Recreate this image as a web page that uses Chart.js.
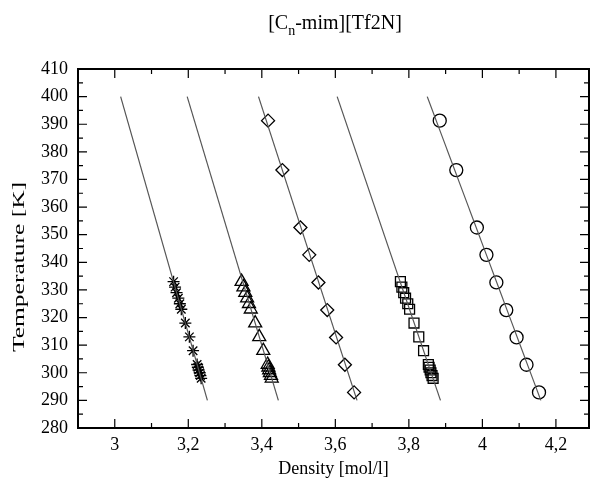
<!DOCTYPE html>
<html lang="en">
<head>
    <meta charset="UTF-8">
    <title>[Cn-mim][Tf2N]</title>
    <script src="https://cdn.jsdelivr.net/npm/chart.js"></script>
    <style>
        html, body {
            margin: 0;
            padding: 0;
            background-color: #fff;
            overflow: hidden;
        }
        .chart-container {
            width: 590px;
            height: 480px;
            position: relative;
        }
        canvas {
            display: block;
        }
    </style>
</head>
<body>
    <div class="chart-container">
        <canvas id="densityChart"></canvas>
    </div>

    <script>
        // axis ticks
        const xTicks = [3, 3.2, 3.4, 3.6, 3.8, 4, 4.2];
        const xMinorTicks = [3.1, 3.3, 3.5, 3.7, 3.9, 4.1];
        const yTicks = [280, 290, 300, 310, 320, 330, 340, 350, 360, 370, 380, 390, 400, 410];
        const yMinorTicks = [285, 295, 305, 315, 325, 335, 345, 355, 365, 375, 385, 395, 405];

        // measured points (temperature in K, density in mol/l)
        const tempShort = [333, 331, 329, 327, 325, 323, 318, 313, 308, 303, 302, 301, 300, 299, 298];
        const densStar = [3.160, 3.164, 3.168, 3.173, 3.177, 3.181, 3.192, 3.203, 3.213, 3.224, 3.226, 3.228, 3.231, 3.233, 3.235];
        const densTriangle = [3.345, 3.350, 3.355, 3.360, 3.365, 3.370, 3.382, 3.393, 3.404, 3.416, 3.418, 3.420, 3.422, 3.425, 3.427];
        const densSquare = [3.777, 3.781, 3.786, 3.791, 3.797, 3.802, 3.814, 3.827, 3.840, 3.853, 3.855, 3.858, 3.860, 3.863, 3.866];

        const tempLong = [391.3, 373.4, 352.6, 342.7, 332.7, 322.7, 312.8, 302.9, 292.9];
        const densDiamond = [3.417, 3.456, 3.505, 3.529, 3.554, 3.578, 3.602, 3.626, 3.651];
        const densCircle = [3.884, 3.929, 3.985, 4.011, 4.038, 4.065, 4.093, 4.120, 4.154];

        // fitted lines, density at T = 400 K and T = 290 K
        const fitTemps = [400, 290];
        const fitStar = [3.016, 3.252];
        const fitTriangle = [3.197, 3.445];
        const fitDiamond = [3.391, 3.659];
        const fitSquare = [3.605, 3.886];
        const fitCircle = [3.850, 4.159];

        const serif = "'Liberation Serif', 'Times New Roman', serif";

        function pts(xs, ys) {
            return xs.map((x, i) => ({ x: x, y: ys[i] }));
        }

        function fitSet(xs) {
            return {
                data: pts(xs, fitTemps),
                showLine: true,
                borderColor: '#555',
                borderWidth: 1.2,
                pointRadius: 0,
                fill: false
            };
        }

        function markerSet(xs, ys, style, r) {
            return {
                data: pts(xs, ys),
                showLine: false,
                pointStyle: style,
                pointRadius: r,
                pointBorderColor: '#000',
                pointBackgroundColor: 'rgba(0,0,0,0)',
                pointBorderWidth: 1.3
            };
        }

        // frame with inward ticks, title with subscript, stretched y title
        const framePlugin = {
            id: 'frame',
            afterDraw(chart) {
                const ctx = chart.ctx;
                const a = chart.chartArea;
                const xs = chart.scales.x;
                const ys = chart.scales.y;
                ctx.save();
                ctx.strokeStyle = '#000';
                ctx.lineWidth = 1.2;
                ctx.beginPath();
                const tick = (vals, len) => {
                    vals.forEach(v => {
                        const px = xs.getPixelForValue(v);
                        ctx.moveTo(px, a.bottom); ctx.lineTo(px, a.bottom - len);
                        ctx.moveTo(px, a.top); ctx.lineTo(px, a.top + len);
                    });
                };
                const ytick = (vals, len) => {
                    vals.forEach(v => {
                        const py = ys.getPixelForValue(v);
                        ctx.moveTo(a.left, py); ctx.lineTo(a.left + len, py);
                        ctx.moveTo(a.right, py); ctx.lineTo(a.right - len, py);
                    });
                };
                tick(xTicks, 9);
                tick(xMinorTicks, 5);
                ytick(yTicks, 9);
                ytick(yMinorTicks, 5);
                ctx.stroke();
                ctx.lineWidth = 2;
                ctx.strokeRect(a.left, a.top, a.right - a.left, a.bottom - a.top);

                // chart title
                ctx.fillStyle = '#000';
                ctx.textBaseline = 'alphabetic';
                ctx.textAlign = 'left';
                const big = '20px ' + serif;
                const small = '14px ' + serif;
                ctx.font = big;
                const w1 = ctx.measureText('[C').width;
                const w3 = ctx.measureText('-mim][Tf2N]').width;
                ctx.font = small;
                const w2 = ctx.measureText('n').width;
                let x0 = 335 - (w1 + w2 + w3) / 2;
                ctx.font = big;
                ctx.fillText('[C', x0, 29);
                ctx.font = small;
                ctx.fillText('n', x0 + w1, 35);
                ctx.font = big;
                ctx.fillText('-mim][Tf2N]', x0 + w1 + w2, 29);

                // y axis title
                ctx.translate(20, 267);
                ctx.rotate(-Math.PI / 2);
                ctx.scale(1.5, 1);
                ctx.font = '17px ' + serif;
                ctx.textAlign = 'center';
                ctx.textBaseline = 'middle';
                ctx.fillText('Temperature [K]', 0, 0);
                ctx.restore();
            }
        };

        const ctx = document.getElementById('densityChart').getContext('2d');
        const densityChart = new Chart(ctx, {
            type: 'scatter',
            data: {
                datasets: [
                    fitSet(fitStar),
                    fitSet(fitTriangle),
                    fitSet(fitDiamond),
                    fitSet(fitSquare),
                    fitSet(fitCircle),
                    markerSet(densStar, tempShort, 'star', 6),
                    markerSet(densTriangle, tempShort, 'triangle', 7.5),
                    markerSet(densDiamond, tempLong, 'rectRot', 6.5),
                    markerSet(densSquare, tempShort, 'rect', 7),
                    markerSet(densCircle, tempLong, 'circle', 6.5)
                ]
            },
            options: {
                responsive: true,
                maintainAspectRatio: false,
                animation: false,
                layout: {
                    autoPadding: false,
                    padding: { top: 69, right: 1, bottom: 0, left: 0 }
                },
                plugins: {
                    legend: { display: false },
                    tooltip: { enabled: false }
                },
                scales: {
                    x: {
                        type: 'linear',
                        min: 2.9,
                        max: 4.29,
                        grid: { display: false, drawTicks: false },
                        border: { display: false },
                        afterBuildTicks: s => { s.ticks = xTicks.map(v => ({ value: v })); },
                        afterFit: s => { s.height = 52; },
                        ticks: {
                            autoSkip: false,
                            maxRotation: 0,
                            padding: 6,
                            color: '#000',
                            font: { family: serif, size: 18 },
                            callback: v => String(v).replace('.', ',')
                        },
                        title: {
                            display: true,
                            text: 'Density [mol/l]',
                            color: '#000',
                            font: { family: serif, size: 18 },
                            padding: 0
                        }
                    },
                    y: {
                        type: 'linear',
                        min: 280,
                        max: 410,
                        grid: { display: false, drawTicks: false },
                        border: { display: false },
                        afterBuildTicks: s => { s.ticks = yTicks.map(v => ({ value: v })); },
                        afterFit: s => { s.width = 78; },
                        ticks: {
                            autoSkip: false,
                            padding: 10,
                            color: '#000',
                            font: { family: serif, size: 18 }
                        }
                    }
                }
            },
            plugins: [framePlugin]
        });
    </script>
</body>
</html>
